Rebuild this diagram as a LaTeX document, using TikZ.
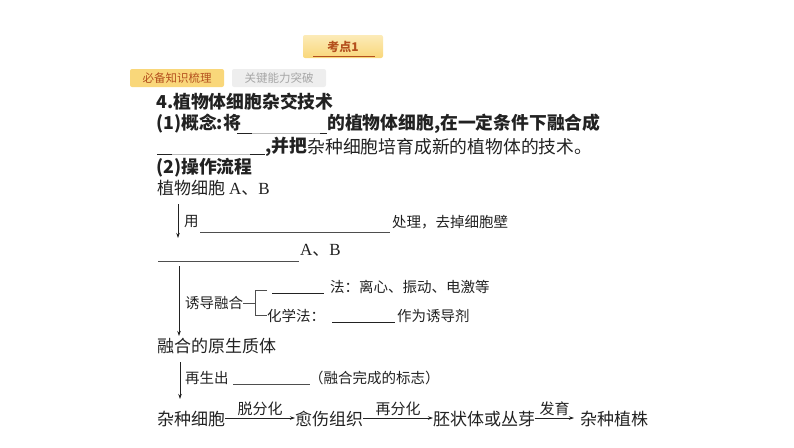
\documentclass[tikz,border=0pt]{standalone}
\usepackage{fontspec}
\usetikzlibrary{arrows.meta}
\setmainfont{Liberation Serif}
\newfontfamily\cjk{Noto Sans CJK SC}
\definecolor{tabgold}{HTML}{F9D77A}
\definecolor{tablight}{HTML}{FCEBB8}
\definecolor{tabtext}{HTML}{B4501E}
\definecolor{tabgray}{HTML}{EEEEEE}
\definecolor{ink}{HTML}{222222}
\definecolor{blank}{HTML}{BBBBBB}
\begin{document}
\begin{tikzpicture}[x=1pt,y=-1pt,
    txt/.style={anchor=west,inner sep=0pt,text=ink},
    head/.style={txt,font=\cjk\bfseries\fontsize{17.8}{17.8}\selectfont},
    flow/.style={txt,font=\cjk\fontsize{17}{17}\selectfont},
    note/.style={txt,font=\cjk\fontsize{14.5}{14.5}\selectfont},
    lbl/.style={font=\cjk\fontsize{15}{15}\selectfont,text=ink,inner sep=1.5pt},
    arr/.style={draw=ink,line width=0.7pt,-{Stealth[length=5pt,width=3.5pt]}},
    gap/.style={draw=ink,line width=0.7pt},
    soft/.style={draw=blank,line width=0.7pt}]
\useasboundingbox (0,0) rectangle (794,447);

% tabs
\node (kd) [minimum width=80pt,minimum height=23pt,inner sep=0pt,rounded corners=2pt,
    top color=tablight,bottom color=tabgold,font=\cjk\bfseries\fontsize{12}{12}\selectfont,text=tabtext]
    at (343,46.5) {考点1};
\draw[tabtext,line width=0.8pt] (313,56) -- (375,56);
\node (bz) [minimum width=94pt,minimum height=18pt,inner sep=0pt,rounded corners=2pt,fill=tabgold,
    font=\cjk\fontsize{11.5}{11.5}\selectfont,text=tabtext] at (177,78) {必备知识梳理};
\node (gj) [minimum width=94pt,minimum height=18pt,inner sep=0pt,rounded corners=2pt,fill=tabgray,
    font=\cjk\fontsize{11.5}{11.5}\selectfont,text=black!35] at (279,78) {关键能力突破};

% heading lines
\node (t4) [head] at (156,102) {4.植物体细胞杂交技术};
\node (c1a) [head] at (156,124) {(1)概念:将};
\draw[gap] (237,133) -- (252,133);
\draw[soft] (252,133) -- (320,133);
\draw[gap] (320,133) -- (327,133);
\node (c1b) [head] at (327,124) {的植物体细胞,在一定条件下融合成};
\draw[gap] (157,154) -- (172,154);
\draw[soft] (172,154) -- (250,154);
\draw[gap] (250,154) -- (265,154);
\node (c1c) [head] at (265,147) {,并把};
\node (c1d) [txt,font=\cjk\fontsize{17.8}{17.8}\selectfont] at (c1c.east) {杂种细胞培育成新的植物体的技术。};
\node (c2) [head] at (156,168) {(2)操作流程};

% flow
\node (cell) [flow] at (157,188) {植物细胞 \rmfamily A{\cjk 、}B};
\coordinate (a1s) at (178,204);
\coordinate (a1e) at (178,238);
\draw[arr] (a1s) -- (a1e);
\node (yong) [note] at (184,222) {用};
\draw[soft,draw=ink!80] (200,232) -- (390,232);
\node (chuli) [note] at (392,222) {处理，去掉细胞壁};

\draw[soft,draw=ink!80] (158,261) -- (299,261);
\node (proto) [flow] at (300,250) {\rmfamily A{\cjk 、}B};
\coordinate (a2s) at (179,266);
\coordinate (a2e) at (179,336);
\draw[arr] (a2s) -- (a2e);
\node (yd) [note] at (185,303) {诱导融合};
\draw[gap,draw=ink!80] (yd.east) -- (255,303);
\draw[gap,draw=ink!80] (267,290) -- (255,290) -- (255,315) -- (267,315);
\draw[gap] (272,293) -- (324,293);
\node (wl) [note] at (330,287) {法：离心、振动、电激等};
\node (hx) [note] at (267,316) {化学法：};
\draw[gap] (332,322) -- (395,322);
\node (yd2) [note] at (397,316) {作为诱导剂};

\node (fused) [flow] at (157,346) {融合的原生质体};
\coordinate (a3s) at (180,362);
\coordinate (a3e) at (180,399);
\draw[arr] (a3s) -- (a3e);
\node (zs) [note] at (185,378) {再生出};
\draw[soft,draw=ink!80] (233,384) -- (310,384);
\node (bz2) [note] at (309,378) {（融合完成的标志）};

\node (hyb) [flow] at (157,419) {杂种细胞};
\node (callus) [flow] at (295,419) {愈伤组织};
\node (emb) [flow] at (433,419) {胚状体或丛芽};
\node (plant) [flow] at (580,419) {杂种植株};
\draw[arr] ([yshift=1pt]hyb.east) -- node[lbl,above] {脱分化} ([yshift=1pt]callus.west);
\draw[arr] ([yshift=1pt]callus.east) -- node[lbl,above] {再分化} ([yshift=1pt]emb.west);
\draw[arr] ([yshift=1pt]emb.east) -- node[lbl,above] {发育} ([xshift=-6pt,yshift=1pt]plant.west);
\end{tikzpicture}
\end{document}
